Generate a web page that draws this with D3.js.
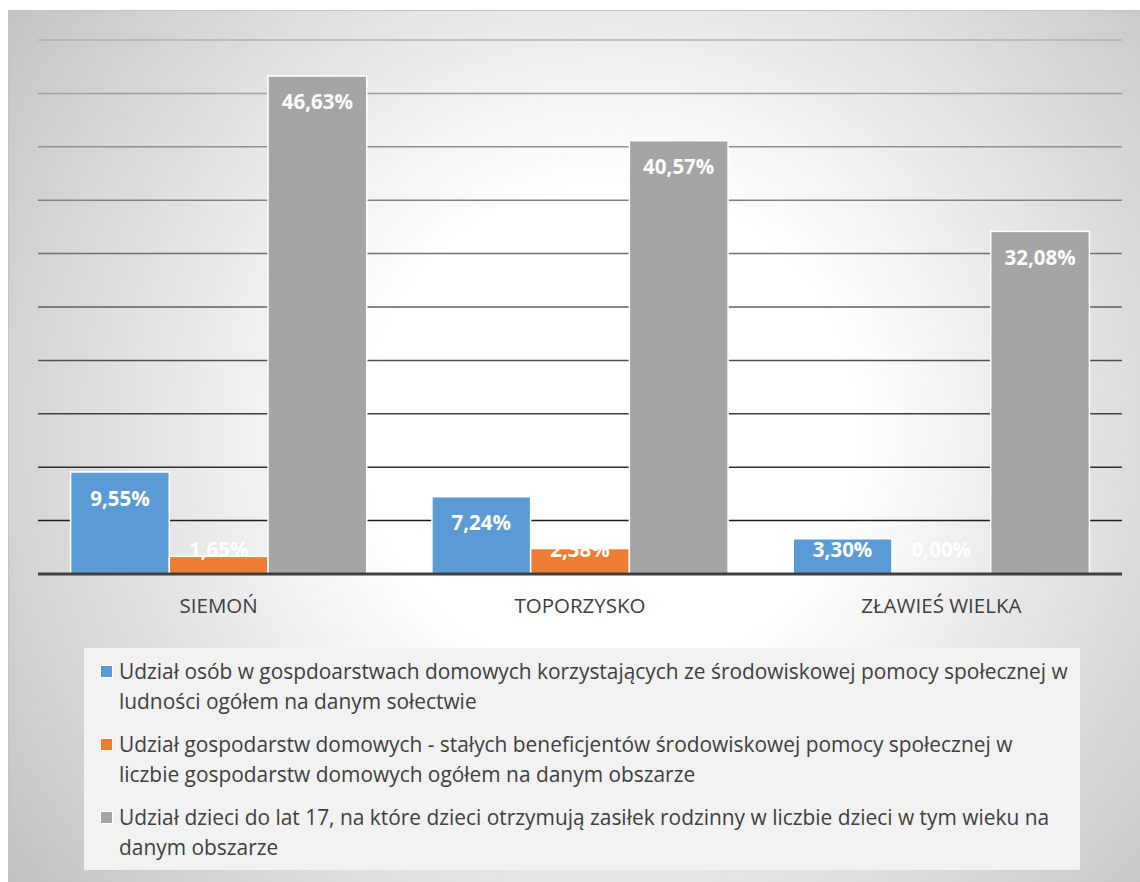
<!DOCTYPE html>
<html><head><meta charset="utf-8">
<script src="https://cdn.jsdelivr.net/npm/d3@7"></script>
<style>html,body{margin:0;padding:0;background:#fff;}svg{display:block;}</style>
</head><body>
<svg id="c" width="1140" height="882"></svg>
<script>
const categories = ["SIEMOŃ", "TOPORZYSKO", "ZŁAWIEŚ WIELKA"];
const seriesNames = ["s1", "s2", "s3"];
const seriesValues = {
  s1: [9.55, 7.24, 3.30],
  s2: [1.65, 2.38, 0.00],
  s3: [46.63, 40.57, 32.08]
};
const seriesColors = ["#5b9bd5", "#ed7d31", "#a5a5a5"];
const legendLines = [
  ["Udział osób w gospdoarstwach domowych korzystających ze środowiskowej pomocy społecznej w", "ludności ogółem na danym sołectwie"],
  ["Udział gospodarstw domowych - stałych beneficjentów środowiskowej pomocy społecznej w", "liczbie gospodarstw domowych ogółem na danym obszarze"],
  ["Udział dzieci do lat 17, na które dzieci otrzymują zasiłek rodzinny w liczbie dzieci w tym wieku na", "danym obszarze"]
];
const yTicks = [0, 5, 10, 15, 20, 25, 30, 35, 40, 45, 50];

const FONT = "'Open Sans', 'Noto Sans', sans-serif";
const svg = d3.select("#c");
const defs = svg.append("defs");
const rg = defs.append("radialGradient").attr("id", "bg")
  .attr("gradientUnits", "userSpaceOnUse")
  .attr("cx", 610).attr("cy", 430).attr("r", 800);
rg.append("stop").attr("offset", 0).attr("stop-color", "#ffffff");
rg.append("stop").attr("offset", 0.3).attr("stop-color", "#ffffff");
rg.append("stop").attr("offset", 1).attr("stop-color", "#bcbcbc");

svg.append("rect").attr("x", 8.5).attr("y", 10.5).attr("width", 1140).attr("height", 880)
  .attr("fill", "url(#bg)").attr("stroke", "#c4c4c4").attr("stroke-width", 1);

const x0 = d3.scaleBand().domain(categories).range([38, 1122]);
const x1 = d3.scaleBand().domain(seriesNames).range([0, x0.bandwidth()]).paddingInner(0).paddingOuter(0.33);
const y = d3.scaleLinear().domain([0, 50]).range([574, 40]);

const gridCol = d3.scaleLinear().domain([40, 280, 520]).range(["#b0b0b0", "#6a6a6a", "#1e1e1e"]);
svg.append("g").selectAll("line").data(yTicks.filter(t => t > 0)).join("line")
  .attr("x1", 38).attr("x2", 1122)
  .attr("y1", d => y(d)).attr("y2", d => y(d))
  .attr("stroke", d => gridCol(y(d))).attr("stroke-width", 1.5);

const groups = svg.append("g").selectAll("g").data(categories).join("g")
  .attr("transform", d => `translate(${x0(d)},0)`);

groups.selectAll("rect").data((c, i) => seriesNames.map((s, j) => ({s, j, v: seriesValues[s][i]})))
  .join("rect")
  .attr("x", d => x1(d.s)).attr("width", x1.bandwidth())
  .attr("y", d => y(d.v)).attr("height", d => y(0) - y(d.v))
  .attr("fill", d => seriesColors[d.j])
  .attr("stroke", d => d.v > 0 ? "#ffffff" : "none").attr("stroke-width", 1.5);

// baseline
svg.append("line").attr("x1", 38).attr("x2", 1122).attr("y1", y(0)).attr("y2", y(0))
  .attr("stroke", "#404040").attr("stroke-width", 3);

groups.selectAll("text.v").data((c, i) => seriesNames.map((s, j) => ({s, j, v: seriesValues[s][i]})))
  .join("text").attr("class", "v")
  .attr("x", d => x1(d.s) + x1.bandwidth() / 2)
  .attr("y", d => Math.min(y(d.v) + 26, y(0) - 25) + 7.5)
  .attr("text-anchor", "middle").attr("fill", "#ffffff")
  .attr("font-family", FONT).attr("font-weight", "bold").attr("font-size", 20.5)
  .text(d => d.v.toFixed(2).replace(".", ",") + "%");

svg.append("g").selectAll("text").data(categories).join("text")
  .attr("x", d => x0(d) + x0.bandwidth() / 2).attr("y", 613)
  .attr("text-anchor", "middle").attr("fill", "#404040")
  .attr("font-family", FONT).attr("font-size", 20.5)
  .text(d => d);

// legend
svg.append("rect").attr("x", 84).attr("y", 648).attr("width", 996).attr("height", 222).attr("fill", "#f2f2f2");
const lg = svg.append("g");
legendLines.forEach((lines, i) => {
  const by = 679 + i * 73;
  lg.append("rect").attr("x", 100.5).attr("y", by - 13.5).attr("width", 12).attr("height", 12)
    .attr("fill", seriesColors[i]).attr("stroke", "#ffffff").attr("stroke-width", 1);
  lines.forEach((t, k) => {
    lg.append("text").attr("x", 119).attr("y", by + k * 29.5)
      .attr("fill", "#404040").attr("font-family", FONT).attr("font-size", 20.9)
      .text(t);
  });
});
</script>
</body></html>
